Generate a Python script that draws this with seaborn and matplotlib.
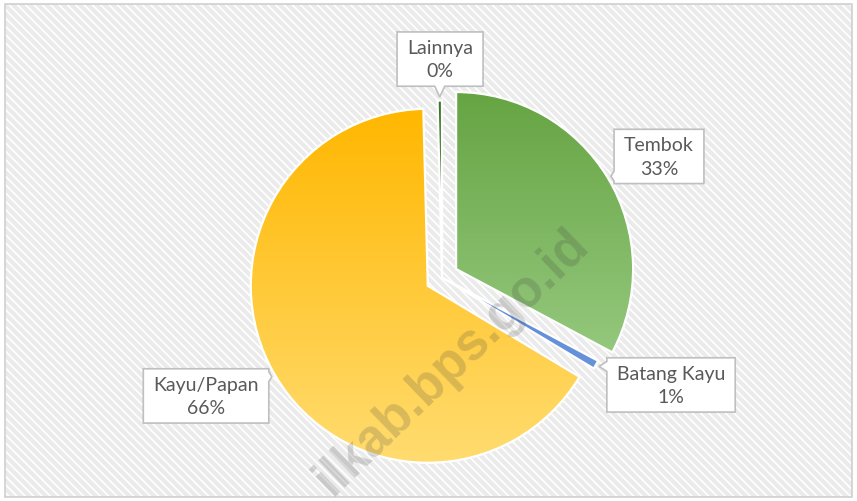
import numpy as np
import matplotlib
matplotlib.use('Agg')
import matplotlib.pyplot as plt
import seaborn as sns
from matplotlib.patches import Rectangle, Polygon
from matplotlib.colors import ListedColormap

# %% Data

categories = ['Tembok', 'Batang Kayu', 'Kayu/Papan', 'Lainnya']
shares = [32.8, 0.8, 66.0, 0.4]
pct_labels = [f'{round(v)}%' for v in shares]

# Gradient colours of each slice (top -> bottom)
top_colors = ['#66a443', '#4d7fd6', '#ffb700', '#3b7a2a']
bottom_colors = ['#a5d592', '#7099dc', '#ffdc70', '#3b7a2a']

explode = [0.093, 0, 0.093, 0]

# Centres of the label boxes (data units, pie radius = 1)
label_pos = [(1.226, 0.684), (1.294, -0.607), (-1.333, -0.669), (-0.011, 1.234)]

# %% Figure setup

sns.set_theme(style='white')
plt.rcParams['font.family'] = ['Lato', 'DejaVu Sans']
plt.rcParams['hatch.linewidth'] = 3.0

W, H = 857, 502
px = 177            # pixels per unit radius
cx, cy = 442, 278.5  # pie centre in pixels (from top left)

fig = plt.figure(figsize=(W / 100, H / 100), dpi=100)
ax = fig.add_axes([0, 0, 1, 1])
ax.patch.set_visible(False)

# Hatched chart background with thin border
ax.add_patch(Rectangle((5 / W, 4 / H), 847 / W, 493 / H, transform=fig.transFigure,
                       facecolor='white', edgecolor='#ebebeb', linewidth=0,
                       hatch='\\\\\\\\', zorder=0, clip_on=False))
ax.add_patch(Rectangle((5 / W, 4 / H), 847 / W, 493 / H, transform=fig.transFigure,
                       facecolor='none', edgecolor='#d0d0d0', linewidth=1.2,
                       zorder=0.5, clip_on=False))

# %% Pie

wedges, _ = ax.pie(shares, explode=explode, startangle=90, counterclock=False, radius=1,
                   wedgeprops=dict(facecolor='none', edgecolor='white', linewidth=1.6, zorder=3))

ax.set_aspect('auto')
ax.axis('off')

# Vertical gradient fill inside each wedge
grad = np.linspace(0, 1, 256).reshape(-1, 1)
for w, c0, c1 in zip(wedges, top_colors, bottom_colors):
    cmap = ListedColormap(sns.blend_palette([c0, c1], n_colors=256))
    xc, yc = w.center
    im = ax.imshow(grad, cmap=cmap, extent=(xc - 1, xc + 1, yc - 1, yc + 1),
                   origin='upper', aspect='auto', zorder=2, interpolation='bilinear')
    im.set_clip_path(w)

ax.set_xlim(-cx / px, (W - cx) / px)
ax.set_ylim(-(H - cy) / px, cy / px)

# %% Callout labels

def callout(x0, y0, x1, y1, tip, b):
    tx, ty = tip
    dx = max(x0 - tx, tx - x1, 0)
    dy = max(y0 - ty, ty - y1, 0)
    h = b / 2
    if dx >= dy:
        s = min(max(ty, y0 + h), y1 - h)
        if tx < x0:
            return [(x0, y0), (x1, y0), (x1, y1), (x0, y1), (x0, s + h), tip, (x0, s - h)]
        return [(x0, y0), (x1, y0), (x1, s - h), tip, (x1, s + h), (x1, y1), (x0, y1)]
    s = min(max(tx, x0 + h), x1 - h)
    if ty < y0:
        return [(x0, y0), (s - h, y0), tip, (s + h, y0), (x1, y0), (x1, y1), (x0, y1)]
    return [(x0, y0), (x1, y0), (x1, y1), (s + h, y1), tip, (s - h, y1), (x0, y1)]


renderer = fig.canvas.get_renderer()
padx, pady = 10 / px, 7 / px
for w, cat, pct, pos in zip(wedges, categories, pct_labels, label_pos):
    t = ax.text(pos[0], pos[1], f'{cat}\n{pct}', ha='center', va='center',
                fontsize=14, color='#595959', zorder=5, linespacing=1.45)
    bb = t.get_window_extent(renderer).transformed(ax.transData.inverted())
    mid = np.deg2rad((w.theta1 + w.theta2) / 2)
    xc, yc = w.center
    tip = (xc + 1.02 * np.cos(mid), yc + 1.02 * np.sin(mid))
    verts = callout(bb.x0 - padx, bb.y0 - pady, bb.x1 + padx, bb.y1 + pady, tip, 10 / px)
    ax.add_patch(Polygon(verts, closed=True, facecolor='white', edgecolor='#bfbfbf',
                         linewidth=1.2, zorder=4))

# Watermark (runs off the bottom edge as in the source image)
ax.text(452 / W, 1 - 362 / H, 'ilkab.bps.go.id', transform=fig.transFigure,
        rotation=44, rotation_mode='anchor', ha='center', va='center',
        fontsize=37, fontweight='bold', family='Liberation Sans',
        color='#404040', alpha=0.2, zorder=6)

fig.savefig('out.png', dpi=100)
